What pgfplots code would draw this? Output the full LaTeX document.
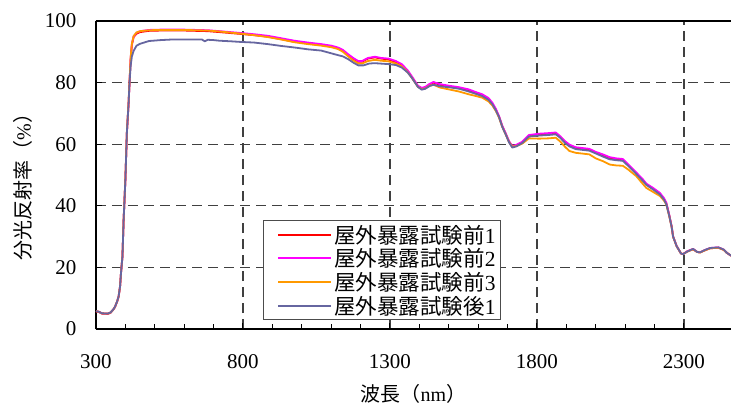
\documentclass[border=0pt]{standalone}
\usepackage{fontspec}
\setmainfont{Liberation Serif}
\newfontfamily\jp{Noto Sans CJK JP}
\usepackage{pgfplots}
\pgfplotsset{compat=1.18}
\definecolor{cred}{RGB}{255,0,0}
\definecolor{cmag}{RGB}{255,0,255}
\definecolor{corange}{RGB}{255,153,0}
\definecolor{cpurple}{RGB}{102,102,160}
\begin{document}
\begin{tikzpicture}
\begin{axis}[
  scale only axis,
  width=635pt, height=308pt,
  xmin=300, xmax=2460, ymin=0, ymax=100,
  axis x line*=box, axis y line*=left,
  xtick pos=left, ytick pos=left,
  xtick={300,800,1300,1800,2300},
  ytick={0,20,40,60,80,100},
  minor x tick num=4,
  tick align=inside,
  major tick length=6pt, minor tick length=5pt,
  tick style={black, line width=1pt},
  axis line style={black, line width=1.6pt},
  xmajorgrids, ymajorgrids,
  major grid style={black!75, line width=1.2pt, dash pattern=on 10pt off 6pt},
  /pgf/number format/assume math mode=true,
  /pgf/number format/set thousands separator={},
  tick label style={font=\fontsize{21}{21}\selectfont},
  xticklabel style={yshift=-22pt},
  yticklabel style={xshift=-16pt},
  xlabel={{\jp 波長（}nm{\jp ）}},
  ylabel={{\jp 分光反射率（}\%{\jp ）}},
  label style={font=\fontsize{20}{20}\selectfont},
  xlabel style={at={(axis description cs:0.5,0)}, anchor=center, yshift=-65pt},
  ylabel style={at={(axis description cs:-0.115,0.477)}, anchor=center},
  legend style={at={(rel axis cs:0.263,0.029)}, anchor=south west,
    draw=black!70, line width=1pt, font=\fontsize{21.5}{23}\selectfont,
    inner xsep=3pt, inner ysep=2pt, row sep=0pt},
  legend cell align=left,
  legend image code/.code={\path (0pt,0pt); \draw[#1, line width=2pt] (11pt,0pt) -- (64pt,0pt);},
  every axis plot/.append style={line width=1.8pt, line join=round},
]
\addplot[cred] table {
300 5.7
310 5.5
320 5.0
340 4.9
350 5.3
360 6.4
365 7.2
372 8.9
377 10.5
382 13.9
385 18.0
390 23.4
394 35.3
400 48.4
405 63.5
411 73.3
414 79.8
418 87.7
422 92.2
428 94.8
438 95.9
450 96.4
480 96.8
520 96.9
600 96.9
680 96.7
720 96.4
793 95.8
838 95.4
884 94.9
930 94.1
975 93.3
1021 92.7
1066 92.2
1100 91.7
1123 91.1
1140 90.3
1158 88.9
1175 87.7
1192 86.8
1205 86.8
1225 87.8
1249 88.2
1270 87.8
1295 87.5
1320 86.7
1340 85.7
1360 83.7
1374 81.8
1395 78.8
1408 78.1
1420 78.4
1435 79.4
1448 80.0
1470 79.3
1500 78.7
1535 78.2
1568 77.5
1590 76.7
1614 75.9
1635 74.7
1648 73.2
1660 71.2
1671 68.9
1682 65.8
1693 63.5
1705 60.8
1716 59.2
1730 59.6
1750 60.6
1773 62.8
1807 63.1
1840 63.4
1864 63.6
1880 62.3
1895 60.8
1910 59.6
1932 58.7
1978 58.2
2000 57.2
2024 56.4
2047 55.5
2070 55.1
2092 54.9
2110 53.2
2138 50.5
2161 48.2
2172 46.9
2195 45.5
2218 43.9
2232 42.2
2240 40.8
2250 36.9
2258 33.3
2263 30.0
2275 26.9
2290 24.5
2297 24.3
2310 25.1
2331 25.9
2345 25.0
2355 24.9
2370 25.5
2389 26.2
2417 26.4
2435 25.7
2445 24.8
2460 23.8
};
\addlegendentry{{\jp 屋外暴露試験前}1}
\addplot[cmag] table {
300 5.8
310 5.6
320 5.1
340 5.0
350 5.4
360 6.5
365 7.3
372 9.0
377 10.6
382 14.0
385 18.2
390 23.6
394 35.5
400 48.6
405 63.7
411 73.5
414 80.0
418 88.0
422 92.5
428 95.0
438 96.2
450 96.7
480 97.1
520 97.2
600 97.2
680 97.0
720 96.7
793 96.1
838 95.7
884 95.2
930 94.4
975 93.6
1021 93.0
1066 92.5
1100 92.0
1123 91.4
1140 90.6
1158 89.2
1175 88.0
1192 87.0
1205 87.0
1225 88.0
1249 88.4
1270 88.0
1295 87.8
1320 87.0
1340 86.0
1360 84.0
1374 82.1
1395 79.0
1408 78.3
1420 78.6
1435 79.6
1448 80.2
1470 79.5
1500 79.0
1535 78.5
1568 77.8
1590 77.0
1614 76.2
1635 75.0
1648 73.5
1660 71.5
1671 69.1
1682 66.0
1693 63.7
1705 61.0
1716 59.4
1730 59.8
1750 60.8
1773 63.0
1807 63.4
1840 63.6
1864 63.8
1880 62.5
1895 61.0
1910 59.9
1932 59.0
1978 58.5
2000 57.5
2024 56.7
2047 55.8
2070 55.4
2092 55.2
2110 53.5
2138 50.8
2161 48.5
2172 47.2
2195 45.8
2218 44.2
2232 42.5
2240 41.0
2250 37.0
2258 33.4
2263 30.1
2275 27.0
2290 24.5
2297 24.3
2310 25.2
2331 26.0
2345 25.0
2355 24.9
2370 25.6
2389 26.3
2417 26.5
2435 25.8
2445 24.8
2460 23.8
};
\addlegendentry{{\jp 屋外暴露試験前}2}
\addplot[corange] table {
300 5.8
310 5.6
320 5.1
340 5.0
350 5.4
360 6.5
365 7.3
372 9.0
377 10.6
382 14.0
385 18.2
390 23.8
394 35.8
400 49.0
405 64.0
411 74.0
414 80.5
418 88.3
422 92.6
428 95.1
438 96.3
450 96.7
480 97.0
520 97.1
600 97.1
680 96.9
720 96.6
793 95.9
838 95.4
884 94.8
930 94.0
975 93.1
1021 92.5
1066 92.0
1100 91.5
1123 90.9
1140 90.0
1158 88.5
1175 87.2
1192 86.2
1205 86.2
1225 87.0
1249 87.4
1270 87.1
1295 86.9
1320 86.2
1340 85.3
1360 83.4
1374 81.6
1395 78.6
1408 77.9
1420 78.1
1435 79.0
1448 79.3
1470 78.4
1500 77.8
1535 77.1
1568 76.2
1590 75.7
1614 75.1
1635 73.9
1648 72.6
1660 70.8
1671 68.6
1682 65.6
1693 63.3
1705 60.7
1716 59.2
1730 59.4
1750 60.2
1773 61.9
1807 61.8
1840 61.9
1864 62.1
1880 60.8
1895 59.2
1910 57.8
1932 57.2
1978 56.7
2000 55.4
2024 54.5
2047 53.4
2070 53.1
2092 53.0
2110 51.8
2138 49.6
2161 47.0
2172 45.8
2195 44.5
2218 43.2
2232 41.7
2240 40.4
2250 36.6
2258 33.2
2263 30.0
2275 26.9
2290 24.5
2297 24.3
2310 25.1
2331 25.9
2345 25.0
2355 24.8
2370 25.5
2389 26.2
2417 26.4
2435 25.7
2445 24.8
2460 23.8
};
\addlegendentry{{\jp 屋外暴露試験前}3}
\addplot[cpurple] table {
300 5.8
310 5.6
320 5.1
340 5.0
350 5.4
360 6.5
365 7.3
372 9.0
377 10.6
382 14.0
385 18.2
390 23.6
394 35.5
400 48.6
405 63.7
411 73.5
414 80.0
418 85.5
422 88.5
428 90.3
438 92.0
450 92.6
480 93.5
520 93.8
560 94.0
660 94.0
670 93.4
680 93.9
700 93.8
720 93.6
760 93.4
793 93.2
838 93.0
884 92.5
930 91.9
975 91.4
1021 90.8
1066 90.4
1112 89.2
1140 88.5
1158 87.6
1175 86.5
1192 85.6
1210 85.6
1230 86.2
1249 86.3
1295 86.0
1320 85.7
1340 84.9
1360 83.3
1374 81.6
1395 78.6
1408 77.7
1420 78.0
1435 78.9
1448 79.3
1470 78.8
1500 78.5
1535 78.0
1568 77.1
1590 76.4
1614 75.6
1635 74.4
1648 73.0
1660 71.0
1671 68.8
1682 65.6
1693 63.3
1705 60.6
1716 58.9
1730 59.3
1750 60.4
1773 62.5
1807 62.8
1840 63.0
1864 63.2
1880 62.0
1895 60.4
1910 59.3
1932 58.4
1978 57.9
2000 57.0
2024 56.0
2047 55.1
2070 54.8
2092 54.6
2110 53.0
2138 50.3
2161 48.0
2172 46.8
2195 45.3
2218 43.7
2232 42.0
2240 40.5
2250 36.7
2258 33.2
2263 30.0
2275 26.9
2290 24.5
2297 24.3
2310 25.1
2331 26.0
2345 25.0
2355 24.9
2370 25.6
2389 26.3
2417 26.5
2435 25.8
2445 24.8
2460 23.8
};
\addlegendentry{{\jp 屋外暴露試験後}1}
\end{axis}
\pgfresetboundingbox
\path (-96pt,-78pt) rectangle (635pt,329pt);
\end{tikzpicture}
\end{document}
